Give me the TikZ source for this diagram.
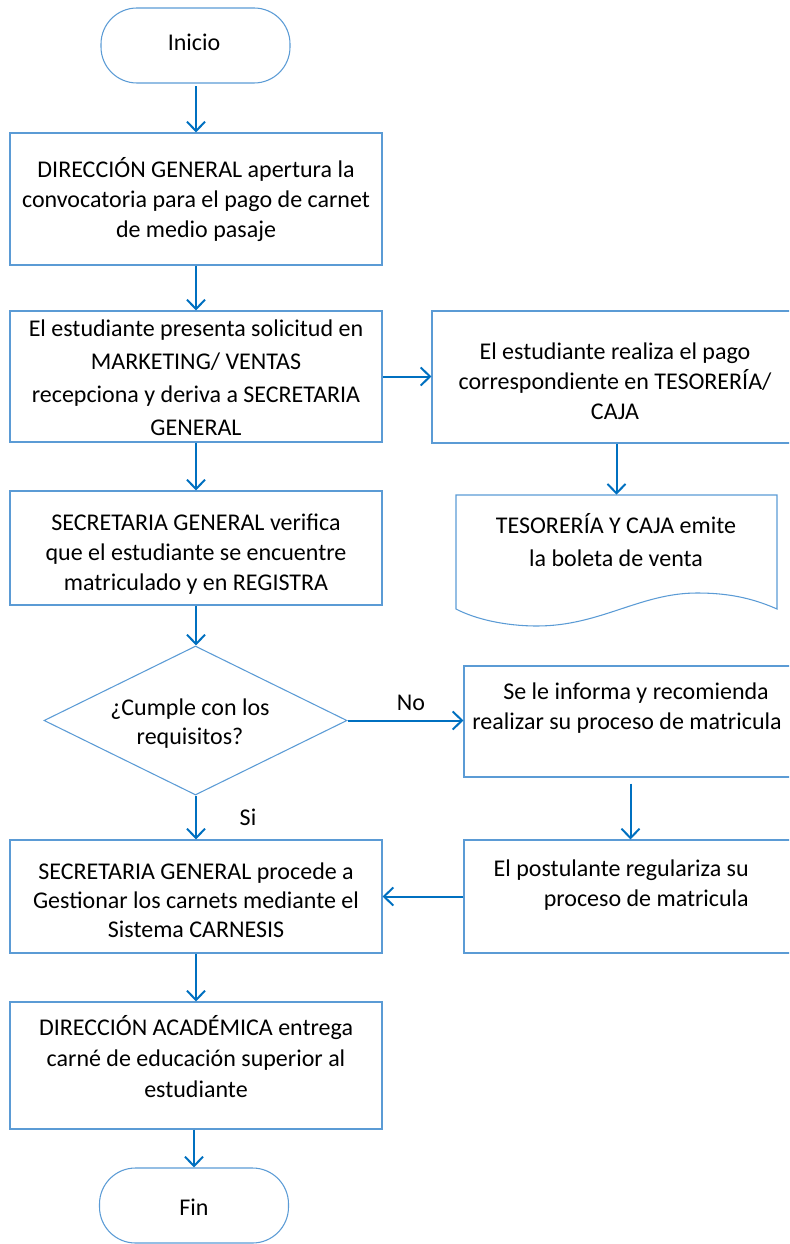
\documentclass[tikz,border=0pt]{standalone}
\usepackage{fontspec}
\setmainfont{Carlito}
\usetikzlibrary{arrows.meta,shapes.geometric}
\definecolor{boxblue}{RGB}{91,155,213}
\definecolor{arrblue}{RGB}{0,112,192}
\begin{document}
\begin{tikzpicture}[x=0.75pt,y=-0.75pt,
  box/.style={draw=boxblue,line width=0.8pt,rectangle,inner sep=0pt,fill=white},
  term/.style={draw=boxblue,line width=0.8pt,rectangle,rounded corners=27pt,inner sep=0pt,minimum width=141.75pt,minimum height=56.25pt},
  dia/.style={draw=boxblue,line width=0.8pt,diamond,inner sep=0pt,minimum width=227.25pt,minimum height=111.75pt},
  txt/.style={inner sep=0pt,align=center,font=\fontsize{18pt}{22.5pt}\selectfont},
  conn/.style={draw=arrblue,line width=1.5pt,-{Straight Barb[length=7pt,width=13.5pt,line width=1.5pt]}},
]
\useasboundingbox (0,0) rectangle (789,1244);
\clip (0,0) rectangle (789,1244);

% shapes
\node[term] (ini) at (195.5,45.5) {};
\node[box,minimum width=279pt,minimum height=99pt] (b1) at (196,199) {};
\node[box,minimum width=279pt,minimum height=98.25pt] (b2) at (196,376.5) {};
\node[box,minimum width=274.5pt,minimum height=99pt] (b3) at (615,377) {};
\node[inner sep=0pt,minimum width=240.75pt,minimum height=85.5pt] (doc) at (616.5,552) {};
\draw[boxblue,line width=0.8pt] (456,495) -- (777,495) -- (777,609)
  .. controls (750,597) and (725,593) .. (697,593)
  .. controls (640,593) and (600,626) .. (537,626)
  .. controls (505,626) and (475,619) .. (456,609) -- cycle;
\node[box,minimum width=279pt,minimum height=85.5pt] (b4) at (196,548) {};
\node[dia] (d) at (195.5,720.5) {};
\node[box,minimum width=249.75pt,minimum height=83.25pt] (b5) at (630.5,721.5) {};
\node[box,minimum width=249.75pt,minimum height=84.75pt] (b6) at (630.5,896.5) {};
\node[box,minimum width=279pt,minimum height=84.75pt] (b7) at (196,896.5) {};
\node[box,minimum width=279pt,minimum height=95.25pt] (b8) at (196,1065.5) {};
\node[term] (fin) at (194,1205.5) {};

% texts
\node[txt] (tini) at (194,42) {Inicio};
\node[txt] (t1) at (196,200) {DIRECCIÓN GENERAL apertura la\\convocatoria para el pago de carnet\\de medio pasaje};
\node[txt,font=\fontsize{18pt}{24.75pt}\selectfont] (t2) at (196,378) {El estudiante presenta solicitud en\\MARKETING/ VENTAS\\recepciona y deriva a SECRETARIA\\GENERAL};
\node[txt] (t3) at (615,381) {El estudiante realiza el pago\\correspondiente en TESORERÍA/\\CAJA};
\node[txt,font=\fontsize{18pt}{25pt}\selectfont] (tdoc) at (616,540) {TESORERÍA Y CAJA emite\\la boleta de venta};
\node[txt] (t4) at (196,554) {SECRETARIA GENERAL verifica\\que el estudiante se encuentre\\matriculado y en REGISTRA};
\node[txt,font=\fontsize{18pt}{21.75pt}\selectfont] (td) at (190,724) {¿Cumple con los\\requisitos?};
\node[txt] (t5) at (627,708) {\hspace*{13.5pt}Se le informa y recomienda\\realizar su proceso de matricula};
\node[txt,align=right,anchor=east] (t6) at (749,885) {El postulante regulariza su\\proceso de matricula};
\node[txt,font=\fontsize{18pt}{21.75pt}\selectfont] (t7) at (196,900) {SECRETARIA GENERAL procede a\\Gestionar los carnets mediante el\\Sistema CARNESIS};
\node[txt,font=\fontsize{18pt}{23.25pt}\selectfont] (t8) at (196,1057) {DIRECCIÓN ACADÉMICA entrega\\carné de educación superior al\\estudiante};
\node[txt] (tfin) at (194,1207) {Fin};
\node[txt] (lno) at (411,703) {No};
\node[txt] (lsi) at (248,817) {Si};

% connectors
\draw[conn,shorten <=2pt] (ini.south -| b1.north) -- (b1.north);
\draw[conn] (b1.south) -- (b2.north);
\draw[conn] (b2.east) -- (b2.east -| b3.west);
\draw[conn] (b3.south -| doc.north) -- (doc.north);
\draw[conn] (b2.south) -- (b4.north);
\draw[conn] (b4.south) -- (d.north -| b4.south);
\draw[conn] (d.east) -- (d.east -| b5.west);
\draw[conn,shorten <=4.5pt] (b5.south) -- (b6.north);
\draw[conn] (b6.west) -- (b6.west -| b7.east);
\draw[conn] (d.south -| b7.north) -- (b7.north);
\draw[conn] (b7.south) -- (b8.north);
\draw[conn] (b8.south -| fin.north) -- (fin.north);
\end{tikzpicture}
\end{document}
